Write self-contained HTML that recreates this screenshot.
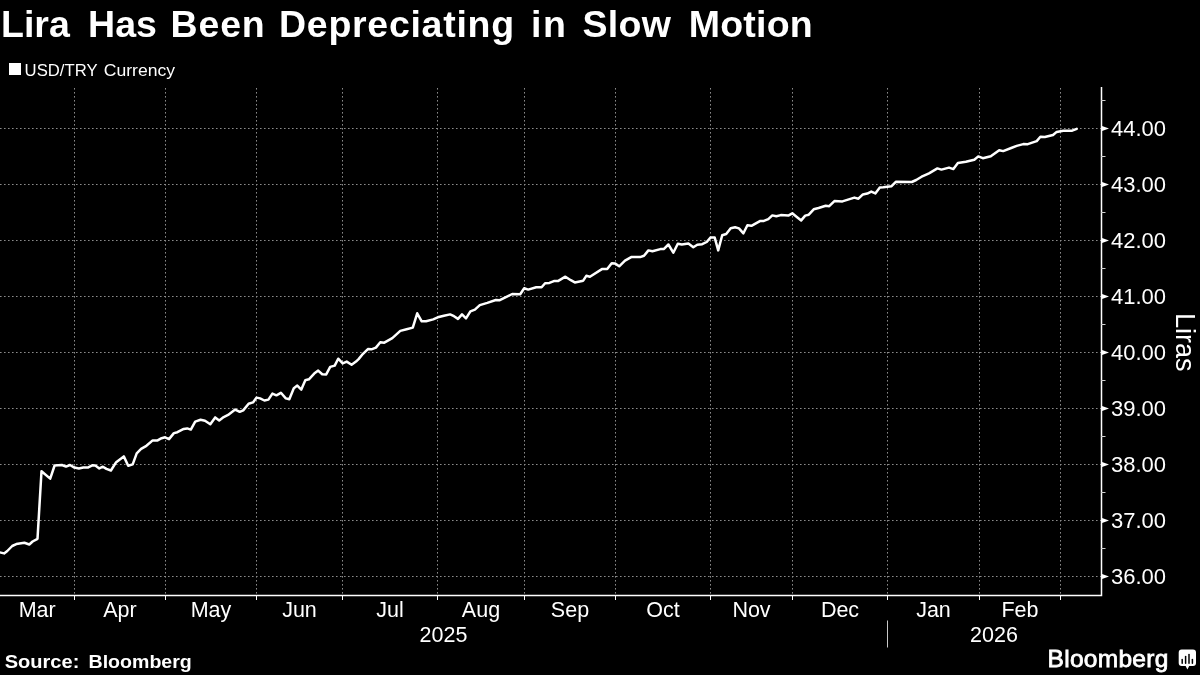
<!DOCTYPE html>
<html><head><meta charset="utf-8">
<style>
html,body{margin:0;padding:0;background:#000;width:1200px;height:675px;overflow:hidden;}
svg{display:block;will-change:transform;}
text{font-family:"Liberation Sans", sans-serif;fill:#fff;}
</style></head><body>
<svg width="1200" height="675" viewBox="0 0 1200 675">
<rect width="1200" height="675" fill="#000"/>
<g font-size="37.5" font-weight="bold">
<text x="1" y="36.8">Lira</text>
<text x="88.1" y="36.8">Has</text>
<text x="170.6" y="36.8" letter-spacing="0.8">Been</text>
<text x="279" y="36.8" letter-spacing="0.72">Depreciating</text>
<text x="531" y="36.8" letter-spacing="1.5">in</text>
<text x="582.5" y="36.8" letter-spacing="0.3">Slow</text>
<text x="688.8" y="36.8" letter-spacing="0.2">Motion</text>
</g>
<rect x="9" y="63" width="12" height="12" fill="#fff"/>
<g font-size="17.2">
<text x="0" y="0" transform="translate(24.6,76) scale(0.97,1)">USD/TRY</text>
<text x="0" y="0" transform="translate(103.8,76) scale(1.023,1)">Currency</text>
</g>
<g stroke="#8a8a8a" stroke-width="1" stroke-dasharray="1.6,2.4" fill="none">
<line x1="74.5" y1="88" x2="74.5" y2="595" />
<line x1="165.5" y1="88" x2="165.5" y2="595" />
<line x1="256.5" y1="88" x2="256.5" y2="595" />
<line x1="342.5" y1="88" x2="342.5" y2="595" />
<line x1="437.5" y1="88" x2="437.5" y2="595" />
<line x1="524.5" y1="88" x2="524.5" y2="595" />
<line x1="615.5" y1="88" x2="615.5" y2="595" />
<line x1="710.5" y1="88" x2="710.5" y2="595" />
<line x1="792.5" y1="88" x2="792.5" y2="595" />
<line x1="887.5" y1="88" x2="887.5" y2="595" />
<line x1="979.5" y1="88" x2="979.5" y2="595" />
<line x1="1060.5" y1="88" x2="1060.5" y2="595" />
<line x1="0" y1="128.5" x2="1101" y2="128.5" />
<line x1="0" y1="184.5" x2="1101" y2="184.5" />
<line x1="0" y1="240.5" x2="1101" y2="240.5" />
<line x1="0" y1="296.5" x2="1101" y2="296.5" />
<line x1="0" y1="352.5" x2="1101" y2="352.5" />
<line x1="0" y1="408.5" x2="1101" y2="408.5" />
<line x1="0" y1="464.5" x2="1101" y2="464.5" />
<line x1="0" y1="520.5" x2="1101" y2="520.5" />
<line x1="0" y1="576.5" x2="1101" y2="576.5" />
</g>
<g stroke="#fff" stroke-width="1">
<line x1="74.5" y1="595" x2="74.5" y2="600" />
<line x1="165.5" y1="595" x2="165.5" y2="600" />
<line x1="256.5" y1="595" x2="256.5" y2="600" />
<line x1="342.5" y1="595" x2="342.5" y2="600" />
<line x1="437.5" y1="595" x2="437.5" y2="600" />
<line x1="524.5" y1="595" x2="524.5" y2="600" />
<line x1="615.5" y1="595" x2="615.5" y2="600" />
<line x1="710.5" y1="595" x2="710.5" y2="600" />
<line x1="792.5" y1="595" x2="792.5" y2="600" />
<line x1="887.5" y1="595" x2="887.5" y2="600" />
<line x1="979.5" y1="595" x2="979.5" y2="600" />
<line x1="1060.5" y1="595" x2="1060.5" y2="600" />
</g>
<path d="M0,595.5 L1101.5,595.5 L1101.5,87" stroke="#fff" stroke-width="1.5" fill="none"/>
<g fill="#fff">
<path d="M1102,126.0 L1109,128.5 L1102,131.0 Z" />
<path d="M1102,182.0 L1109,184.5 L1102,187.0 Z" />
<path d="M1102,238.0 L1109,240.5 L1102,243.0 Z" />
<path d="M1102,294.0 L1109,296.5 L1102,299.0 Z" />
<path d="M1102,350.0 L1109,352.5 L1102,355.0 Z" />
<path d="M1102,406.0 L1109,408.5 L1102,411.0 Z" />
<path d="M1102,462.0 L1109,464.5 L1102,467.0 Z" />
<path d="M1102,518.0 L1109,520.5 L1102,523.0 Z" />
<path d="M1102,574.0 L1109,576.5 L1102,579.0 Z" />
<line x1="1101" y1="100.5" x2="1105.5" y2="100.5" stroke="#d0d0d0" stroke-width="1"/>
<line x1="1101" y1="156.5" x2="1105.5" y2="156.5" stroke="#d0d0d0" stroke-width="1"/>
<line x1="1101" y1="212.5" x2="1105.5" y2="212.5" stroke="#d0d0d0" stroke-width="1"/>
<line x1="1101" y1="268.5" x2="1105.5" y2="268.5" stroke="#d0d0d0" stroke-width="1"/>
<line x1="1101" y1="324.5" x2="1105.5" y2="324.5" stroke="#d0d0d0" stroke-width="1"/>
<line x1="1101" y1="380.5" x2="1105.5" y2="380.5" stroke="#d0d0d0" stroke-width="1"/>
<line x1="1101" y1="436.5" x2="1105.5" y2="436.5" stroke="#d0d0d0" stroke-width="1"/>
<line x1="1101" y1="492.5" x2="1105.5" y2="492.5" stroke="#d0d0d0" stroke-width="1"/>
<line x1="1101" y1="548.5" x2="1105.5" y2="548.5" stroke="#d0d0d0" stroke-width="1"/>
</g>
<g font-size="22">
<text x="1111" y="136.0">44.00</text>
<text x="1111" y="192.0">43.00</text>
<text x="1111" y="248.0">42.00</text>
<text x="1111" y="304.0">41.00</text>
<text x="1111" y="360.0">40.00</text>
<text x="1111" y="416.0">39.00</text>
<text x="1111" y="472.0">38.00</text>
<text x="1111" y="528.0">37.00</text>
<text x="1111" y="584.0">36.00</text>
</g>
<g font-size="21.5">
<text x="37.2" y="617" text-anchor="middle">Mar</text>
<text x="120.0" y="617" text-anchor="middle">Apr</text>
<text x="211.0" y="617" text-anchor="middle">May</text>
<text x="299.5" y="617" text-anchor="middle">Jun</text>
<text x="390.0" y="617" text-anchor="middle">Jul</text>
<text x="481.0" y="617" text-anchor="middle">Aug</text>
<text x="570.0" y="617" text-anchor="middle">Sep</text>
<text x="663.0" y="617" text-anchor="middle">Oct</text>
<text x="751.5" y="617" text-anchor="middle">Nov</text>
<text x="840.0" y="617" text-anchor="middle">Dec</text>
<text x="933.5" y="617" text-anchor="middle">Jan</text>
<text x="1020.0" y="617" text-anchor="middle">Feb</text>
<text x="443.5" y="642" text-anchor="middle">2025</text>
<text x="994" y="642" text-anchor="middle">2026</text>
</g>
<line x1="887.5" y1="620.5" x2="887.5" y2="647.5" stroke="#c8c8c8" stroke-width="1"/>
<text x="0" y="0" font-size="27" transform="translate(1175.5,313) rotate(90)">Liras</text>
<path d="M0.8,552.6 L4.1,553.4 L7.3,551.0 L12.2,546.0 L16.3,544.1 L24.4,542.8 L29.3,544.5 L32.6,541.5 L37.5,538.8 L41.5,471.2 L50.2,478.6 L54.6,465.5 L61.9,465.0 L66.0,466.6 L70.0,465.0 L74.4,467.6 L78.9,468.4 L83.3,467.6 L87.8,467.6 L92.2,465.3 L95.3,465.5 L99.3,468.4 L102.9,466.7 L106.4,468.9 L110.9,470.5 L116.2,462.2 L123.8,456.4 L128.2,465.8 L132.7,464.4 L136.7,453.3 L141.1,448.9 L146.4,445.8 L152.7,440.4 L157.6,440.4 L161.6,438.2 L165.1,437.3 L169.0,439.1 L173.9,433.1 L177.4,432.2 L183.7,428.9 L187.2,428.4 L190.8,429.6 L195.2,421.6 L200.6,419.8 L205.0,420.7 L210.3,424.2 L215.2,417.4 L219.2,420.4 L223.7,417.1 L228.1,414.9 L235.2,409.6 L239.7,411.8 L243.2,410.4 L248.6,403.8 L253.0,402.4 L256.6,397.6 L260.1,398.4 L264.4,400.5 L268.4,399.6 L272.4,393.6 L276.4,395.3 L280.9,392.8 L285.8,398.4 L289.3,399.3 L293.8,388.2 L297.3,385.6 L301.3,389.6 L305.3,380.2 L308.9,379.3 L314.2,373.6 L318.2,370.6 L322.2,374.2 L326.2,374.4 L330.2,366.9 L334.7,365.6 L338.2,358.7 L342.7,363.3 L346.7,361.6 L351.6,364.7 L356.0,361.6 L358.6,359.1 L363.0,353.8 L367.9,349.1 L371.4,349.3 L375.9,347.6 L380.3,342.2 L384.3,342.7 L392.3,338.2 L400.3,330.9 L406.6,329.3 L412.8,327.6 L417.2,313.3 L421.7,321.3 L426.1,321.2 L433.2,319.4 L437.7,317.3 L443.9,315.8 L450.1,314.4 L454.0,316.2 L458.0,318.9 L462.0,314.4 L466.0,318.4 L470.4,311.3 L474.9,309.6 L479.8,305.1 L487.3,302.9 L495.8,300.0 L499.8,300.2 L512.2,294.0 L520.2,294.2 L524.2,288.2 L528.2,289.6 L536.2,287.3 L541.6,287.3 L545.1,283.3 L549.4,282.9 L553.9,281.1 L557.9,281.1 L565.4,276.7 L570.8,280.2 L574.8,282.4 L583.2,280.7 L586.3,275.8 L589.9,276.7 L601.9,269.1 L607.2,269.1 L611.7,263.3 L615.2,263.6 L619.2,266.3 L625.0,260.7 L631.2,257.1 L640.1,257.1 L644.0,255.8 L648.4,250.4 L652.4,251.3 L660.4,249.1 L664.0,248.9 L668.4,244.5 L673.3,252.7 L677.8,243.8 L681.8,244.5 L688.4,243.6 L693.3,247.2 L697.3,244.7 L702.2,244.2 L706.7,242.0 L710.7,237.4 L714.7,237.6 L718.2,250.4 L722.2,235.3 L726.2,234.0 L730.7,228.2 L735.1,227.3 L739.0,228.4 L743.4,233.3 L747.4,225.3 L751.4,225.8 L759.9,221.1 L763.9,220.9 L768.3,219.1 L772.3,215.4 L776.3,216.3 L780.8,215.1 L788.3,215.6 L792.3,213.3 L796.8,216.9 L801.2,220.4 L805.2,215.6 L808.8,214.7 L813.7,209.3 L818.6,208.0 L825.7,205.8 L829.2,206.2 L834.4,201.1 L842.4,201.4 L850.4,198.9 L854.4,197.6 L858.4,198.7 L862.9,194.4 L867.3,193.6 L871.3,191.6 L875.3,193.4 L879.8,187.5 L883.3,187.3 L891.3,186.3 L895.8,181.8 L911.8,182.0 L916.2,180.0 L921.6,176.7 L925.1,175.1 L929.0,173.3 L937.4,168.4 L941.4,169.6 L949.0,167.6 L953.4,169.1 L957.9,163.1 L965.9,161.8 L974.3,159.8 L978.3,156.4 L982.8,158.2 L990.8,156.3 L999.2,150.2 L1003.2,151.1 L1011.2,148.0 L1016.7,145.9 L1023.3,144.1 L1027.8,144.2 L1032.2,142.6 L1036.7,141.1 L1040.4,136.7 L1044.8,137.0 L1053.0,135.0 L1056.7,131.9 L1063.3,130.7 L1072.2,130.7 L1076.7,128.9" stroke="#fff" stroke-width="2.5" fill="none" stroke-linejoin="round" stroke-linecap="round"/>
<g font-size="17.8" font-weight="bold">
<text x="0" y="0" transform="translate(4.7,668.2) scale(1.127,1)">Source:</text>
<text x="0" y="0" transform="translate(88.5,668.2) scale(1.1,1)">Bloomberg</text>
</g>
<text x="1047.5" y="667" font-size="24.5" stroke="#fff" stroke-width="0.8" letter-spacing="0.3">Bloomberg</text>
<g>
<path d="M1181.7,649.4 h11.3 a3,3 0 0 1 3,3 v10.6 a3,3 0 0 1 -3,3 h-3.8 l-1.8,3.4 l-1.8,-3.4 h-3.9 a3,3 0 0 1 -3,-3 v-10.6 a3,3 0 0 1 3,-3 z" fill="#fff"/>
<g stroke="#000" stroke-width="1.5" stroke-linecap="round">
<line x1="1182.2" y1="659.4" x2="1182.2" y2="663.2"/>
<line x1="1185.6" y1="656.6" x2="1185.6" y2="663.2"/>
<line x1="1189" y1="654.6" x2="1189" y2="663.2"/>
<line x1="1192.4" y1="659.4" x2="1192.4" y2="663.2"/>
</g>
</g>
</svg>
</body></html>
